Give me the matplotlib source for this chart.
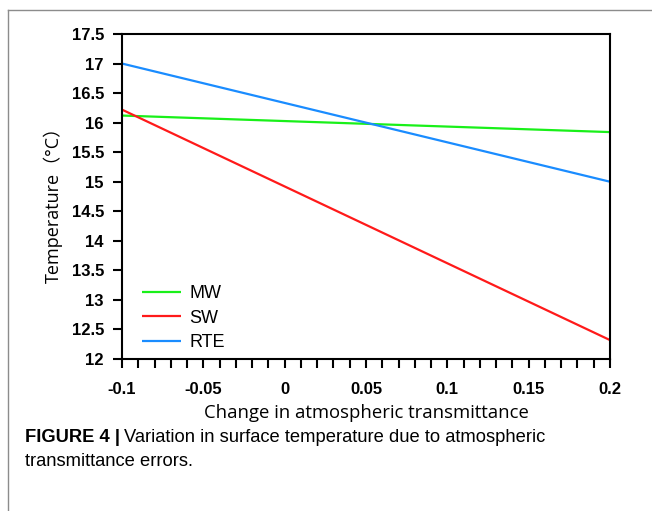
import matplotlib
matplotlib.use("Agg")
import matplotlib.pyplot as plt
from matplotlib.ticker import MultipleLocator
from matplotlib.lines import Line2D

x_vals = [-0.1, 0.2]
mw = [16.12, 15.84]
sw = [16.22, 12.32]
rte = [17.0, 15.0]
series_names = ["MW", "SW", "RTE"]
series_colors = ["#19f019", "#ff1a1a", "#1a8cff"]
x_ticks = [-0.1, -0.05, 0, 0.05, 0.1, 0.15, 0.2]
x_tick_labels = ["-0.1", "-0.05", "0", "0.05", "0.1", "0.15", "0.2"]
y_ticks = [12, 12.5, 13, 13.5, 14, 14.5, 15, 15.5, 16, 16.5, 17, 17.5]
y_tick_labels = ["12", "12.5", "13", "13.5", "14", "14.5", "15", "15.5", "16", "16.5", "17", "17.5"]

W, H = 652, 511
fig = plt.figure(figsize=(W / 100, H / 100), dpi=100)
ax = fig.add_axes([122 / W, 1 - 359 / H, (610 - 122) / W, (359 - 34) / H])

for vals, name, col in zip([mw, sw, rte], series_names, series_colors):
    ax.plot(x_vals, vals, color=col, lw=1.6, label=name, solid_capstyle="butt")

ax.set_xlim(-0.1, 0.2)
ax.set_ylim(12, 17.5)
ax.set_xticks(x_ticks)
ax.set_xticklabels(x_tick_labels)
ax.set_yticks(y_ticks)
ax.set_yticklabels(y_tick_labels)
ax.xaxis.set_minor_locator(MultipleLocator(0.01))

for lbl in ax.get_xticklabels() + ax.get_yticklabels():
    lbl.set_fontfamily("Liberation Sans")
    lbl.set_fontweight("bold")
    lbl.set_fontsize(12)

ax.tick_params(axis="both", which="both", direction="out", length=6.5, width=1.5, color="black")
ax.tick_params(axis="y", pad=6.5)
ax.tick_params(axis="x", pad=10)
for s in ax.spines.values():
    s.set_linewidth(1.5)
    s.set_color("black")

ax.set_xlabel("Change in atmospheric transmittance", fontfamily="Open Sans", fontsize=13.3, labelpad=5)
ax.set_ylabel("Temperature（°C）", fontfamily=["Open Sans", "Noto Sans CJK SC"], fontsize=13)
ax.yaxis.set_label_coords(-0.121, 0.489)

leg = ax.legend(loc="lower left", bbox_to_anchor=(0.008, -0.025), frameon=False,
                prop={"family": "Liberation Sans", "size": 13}, handlelength=2.15,
                handletextpad=0.45, labelspacing=0.4)

# figure frame lines
fig.add_artist(Line2D([8 / W, 1], [1 - 10 / H, 1 - 10 / H], transform=fig.transFigure, color="#8c8c8c", lw=1))
fig.add_artist(Line2D([8 / W, 8 / W], [0, 1 - 10 / H], transform=fig.transFigure, color="#8c8c8c", lw=1))

cap_fam = ["Liberation Sans"]
t1 = fig.text(25 / W, 1 - 437 / H, "FIGURE 4 |", fontfamily=cap_fam, fontweight="bold", fontsize=13.2, va="center", ha="left")
fig.canvas.draw()
bb = t1.get_window_extent()
fig.text(bb.x1 / W + 4 / W, 1 - 437 / H, "Variation in surface temperature due to atmospheric",
         fontfamily=cap_fam, fontsize=13.2, va="center", ha="left")
fig.text(25 / W, 1 - 462 / H, "transmittance errors.", fontfamily=cap_fam, fontsize=13.2, va="center", ha="left")

fig.savefig("out.png", dpi=100)
